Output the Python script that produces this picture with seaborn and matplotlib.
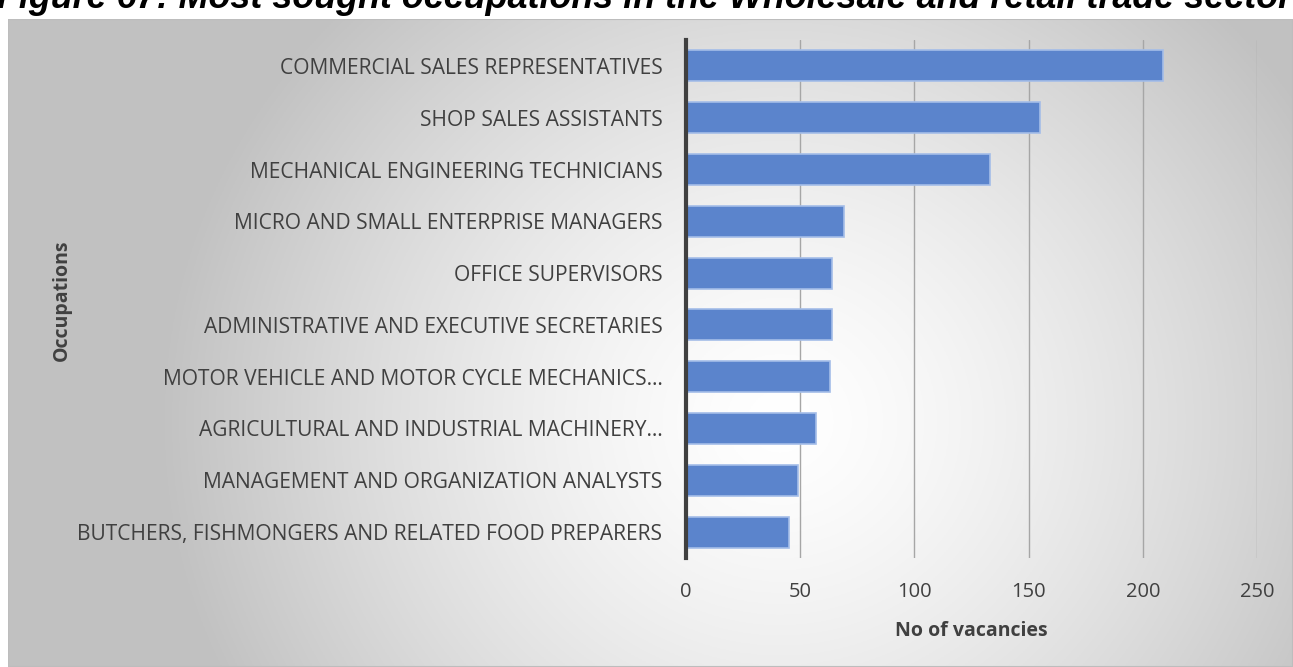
import numpy as np
import pandas as pd
import matplotlib
matplotlib.use("Agg")
import matplotlib.pyplot as plt
import seaborn as sns

occupations = [
    "COMMERCIAL SALES REPRESENTATIVES",
    "SHOP SALES ASSISTANTS",
    "MECHANICAL ENGINEERING TECHNICIANS",
    "MICRO AND SMALL ENTERPRISE MANAGERS",
    "OFFICE SUPERVISORS",
    "ADMINISTRATIVE AND EXECUTIVE SECRETARIES",
    "MOTOR VEHICLE AND MOTOR CYCLE MECHANICS…",
    "AGRICULTURAL AND INDUSTRIAL MACHINERY…",
    "MANAGEMENT AND ORGANIZATION ANALYSTS",
    "BUTCHERS, FISHMONGERS AND RELATED FOOD PREPARERS",
]
vacancies = [209, 155, 133, 69, 64, 64, 63, 57, 49, 45]
x_ticks = [0, 50, 100, 150, 200, 250]

df = pd.DataFrame({"Occupation": occupations, "Vacancies": vacancies})

sns.set_theme(style="white")
plt.rcParams["font.family"] = ["Open Sans", "DejaVu Sans"]

fig = plt.figure(figsize=(12.93, 6.67), dpi=100)
fig.patch.set_facecolor("white")

# radial gradient background for the chart area
bg = fig.add_axes([8 / 1293, 0, 1 - 8 / 1293, 1 - 19 / 667], zorder=0)
W, H = 600, 320
yy, xx = np.mgrid[0:H, 0:W]
cx, cy = 0.60 * W, 0.62 * H
r = np.sqrt(((xx - cx) / (0.75 * W)) ** 2 + ((yy - cy) / (0.75 * W)) ** 2)
r = np.clip(r / 0.64, 0, 1)
val = 1.0 - 0.24 * r ** 1.4
bg.imshow(np.dstack([val, val, val]), aspect="auto", extent=[0, 1, 0, 1], origin="upper")
bg.set_axis_off()
bg.add_patch(plt.Rectangle((0, 0), 1, 1, transform=bg.transAxes, fill=False,
                           edgecolor="#bdbdbd", lw=1.5))

ax = fig.add_axes([686 / 1293, 1 - 558 / 667, (1257 - 686) / 1293, (558 - 40) / 667], zorder=1)
ax.patch.set_alpha(0)
sns.barplot(data=df, x="Vacancies", y="Occupation", orient="h", ax=ax,
            color="#5b84cc", saturation=1, width=0.6, edgecolor="#a4bde8", linewidth=1.2)

ax.set_xlim(0, 250)
ax.set_xticks(x_ticks)
ax.set_xticklabels([str(t) for t in x_ticks], fontsize=14.5, color="#404040")
ax.tick_params(axis="x", length=0, pad=17)
ax.tick_params(axis="y", length=0, pad=17, labelsize=15.1, labelcolor="#404040")
for lab in ax.get_yticklabels():
    lab.set_color("#404040")
ax.grid(axis="x", color="#a6a6a6", lw=1)
ax.set_axisbelow(True)
for s in ["top", "right", "bottom"]:
    ax.spines[s].set_visible(False)
ax.spines["left"].set_color("#404040")
ax.spines["left"].set_linewidth(3)
ax.spines["left"].set_zorder(5)

ax.set_xlabel("No of vacancies", fontsize=14, fontweight="bold", color="#404040", labelpad=14)
ax.set_ylabel("")
fig.text(62 / 1293, 1 - 300 / 667, "Occupations", rotation=90, fontsize=14,
         fontweight="bold", color="#404040", ha="center", va="center")

fig.text(-0.002, 1 + 2 / 667, "Figure 67: Most sought occupations in the Wholesale and retail trade sector",
         fontsize=25.8, fontweight="bold", fontstyle="italic", family=["Liberation Sans", "DejaVu Sans"],
         ha="left", va="center", color="black")

fig.savefig("out.png", dpi=100, facecolor="white")
